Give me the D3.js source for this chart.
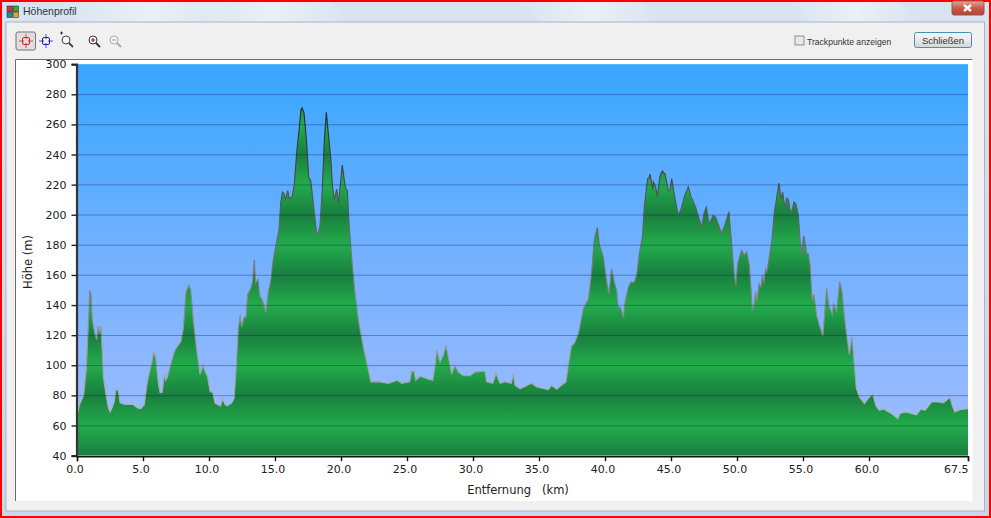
<!DOCTYPE html>
<html><head><meta charset="utf-8">
<script src="https://cdn.jsdelivr.net/npm/d3@7"></script>
<style>
html,body{margin:0;padding:0;background:#fff;overflow:hidden}
svg{display:block}
text{font-family:"DejaVu Sans",sans-serif;fill:#222}
.ui{font-family:"Liberation Sans",sans-serif}
</style></head><body>
<svg id="c" width="991" height="518"></svg>
<script>
const distanceKm = [0,0.2,0.5,0.7,0.85,0.96,1.06,1.16,1.36,1.49,1.59,1.69,1.8,1.89,2,2.17,2.37,2.5,2.67,2.83,2.95,3.13,3.26,3.64,4.26,4.52,4.82,5.1,5.28,5.4,5.66,5.83,5.98,6.16,6.29,6.46,6.61,6.72,6.84,7.1,7.42,7.88,8.05,8.26,8.46,8.61,8.81,9.07,9.32,9.55,9.7,9.9,10.08,10.28,10.45,10.63,10.88,11.03,11.2,11.39,11.72,11.9,12.05,12.22,12.35,12.47,12.65,12.8,12.93,13.16,13.3,13.43,13.53,13.71,13.86,14.04,14.32,14.5,14.67,14.83,15,15.3,15.43,15.56,15.68,15.8,15.96,16.09,16.3,16.46,16.64,16.82,16.97,17.05,17.2,17.4,17.55,17.7,17.9,18.05,18.16,18.25,18.41,18.58,18.74,18.89,19.04,19.22,19.36,19.5,19.67,19.82,19.98,20.1,20.25,20.35,20.48,20.63,20.8,21.06,21.32,21.44,21.74,22.07,22.27,22.45,22.95,23.6,24.27,24.6,25.2,25.35,25.53,25.66,26,26.5,26.95,27.12,27.25,27.5,27.75,27.95,28.13,28.38,28.64,28.9,29.27,29.77,30.15,30.9,31.04,31.5,31.74,32.05,32.42,32.9,33.05,33.18,33.56,34.44,34.83,35.7,35.95,36.34,36.7,37.04,37.22,37.47,37.68,37.98,38.36,38.74,38.94,39.19,39.42,39.57,39.87,40.13,40.3,40.5,40.7,40.88,41,41.2,41.39,41.52,41.77,41.97,42.2,42.4,42.58,42.83,42.98,43.23,43.33,43.41,43.49,43.61,43.66,43.84,43.96,44.17,44.34,44.55,44.8,44.92,45.05,45.3,45.56,45.81,46.01,46.31,46.52,46.87,47.32,47.53,47.68,47.88,48.2,48.38,48.84,49.09,49.39,49.6,49.8,49.92,50.05,50.35,50.55,50.73,50.93,51.06,51.16,51.31,51.41,51.5,51.67,51.82,51.92,52.02,52.17,52.27,52.63,52.83,53,53.18,53.33,53.46,53.64,53.76,53.89,54.09,54.32,54.47,54.65,54.85,55.07,55.28,55.4,55.53,55.7,55.83,56.03,56.2,56.5,56.67,56.79,56.97,57.22,57.32,57.55,57.78,57.95,58.13,58.31,58.51,58.71,58.89,59.04,59.27,59.65,59.95,60.28,60.53,60.78,61.1,61.7,62.17,62.35,62.73,63.23,63.6,63.94,64.24,64.75,65.25,65.63,66.14,66.26,66.5,66.9,67.27,67.5];
const elevationM = [66,74,80,97,124,150,147,130,121,117,126,121,126,112,92,82,72,69,72,76,84,83,75,74,74,72,71,74,86,92,101.5,109,104,88,82,82,94,90,92,101,110,116,124,148,153,150,130,110,94,100,96,92,82.5,82,75,74,73,78,74,73,75,78,97,124,133.5,125.6,132,132,147,151,155,170,154.5,157,145.6,143.5,135,149,155.6,168,176.6,190,208,215,214,210,216,211,212,220,241,256,270,271,267.5,247.6,225,223,208,196.5,188,187,193,216.5,250,268,254,238,218.6,210,217,208,223,233,223,217.6,216,192,172,148,130,124,110,97,89,89,89,88,90,88,89,96,96,90,92.7,91,90,99,110,102,106.7,113,105.5,94.5,100,95.5,93,93,95.5,96,89,88,94.5,88,89,88,94,86.7,84.4,88,85.5,83.8,86.7,84,86.7,89,100,113,114.5,121,137.7,144,157.6,183,191.5,180,172,155.4,147.7,164,155.4,150,139,138,132,142,152,155.4,155,160,173,185,206,224,224.4,227,223,217,222,218.5,212,226,229,227,216,216,224,211,199.6,205,212,218.5,212,205,192,202,205,194,199.6,198.5,187.5,193.5,202,180,160,153,167.6,176.4,173,175,166.5,151,136.6,141,149,142,154,152,160,154,164,162,182,202,211,221,210,215,204,211,210,200,208.5,207,199.6,174,186,174,174,166.5,143,147,133,128,119.6,137.7,151,139,133.7,141,135.5,155.4,149,133,120,107,119,100,84.6,79,74.6,78,81,73,70,71,68,64.5,68,69,68,67,71,70,75.6,75.6,75,78.5,74.5,69,70.5,71,71];
const yTickValues = [40,60,80,100,120,140,160,180,200,220,240,260,280,300];
const xTickValues = [0,5,10,15,20,25,30,35,40,45,50,55,60,67.5];
const bandStops = [300,280,260,240,220,200,180,160,140,120,100,80,60,40];
const points = distanceKm.map((d,i)=>({km:d,m:elevationM[i]}));

const svg = d3.select("#c");
const x = d3.scaleLinear().domain([0,67.5]).range([77,968]);
const y = d3.scaleLinear().domain([40,300]).range([455.6,64.2]);
const defs = svg.append("defs");
function grad(id,stops,horizontal){
  const g=defs.append("linearGradient").attr("id",id).attr("gradientUnits","objectBoundingBox")
    .attr("x1",0).attr("y1",0).attr("x2",horizontal?1:0).attr("y2",horizontal?0:1);
  stops.forEach(s=>g.append("stop").attr("offset",s[0]).attr("stop-color",s[1]).attr("stop-opacity",s[2]===undefined?1:s[2]));
}
function userGrad(id,stops){
  const g=defs.append("linearGradient").attr("id",id).attr("gradientUnits","userSpaceOnUse")
    .attr("x1",0).attr("x2",0).attr("y1",y(300)).attr("y2",y(40));
  stops.forEach(s=>g.append("stop").attr("offset",(300-s[0])/260).attr("stop-color",s[1]));
}
userGrad("sky",[[300,"#37a6ff"],[170,"#74b1ff"],[40,"#a3bdff"]]);
userGrad("band",bandStops.map(v=>[v,(v/20)%2===0?"#197f3e":"#23ab4c"]));
userGrad("edge",[[300,"#111"],[230,"#444"],[170,"#777"],[100,"#a0a0a0"],[40,"#c0c0c0"]]);
grad("title",[[0,"#d8e5f1"],[1,"#c6d8ea"]]);
grad("streak",[[0,"#fff",0],[.5,"#fff",.45],[1,"#fff",0]],true);
grad("close",[[0,"#e0a89e"],[.5,"#c9594a"],[1,"#b5412f"]]);
grad("btn",[[0,"#f6f6f6"],[.5,"#e9e9e9"],[1,"#d5d5d5"]]);

// window chrome
svg.append("rect").attr("width",991).attr("height",518).attr("fill","#f00");
svg.append("rect").attr("x",2).attr("y",2).attr("width",987).attr("height",514).attr("fill","url(#title)");
[[60,220],[190,330],[520,640],[790,900]].forEach(s=>{
  svg.append("path").attr("d",`M${s[0]},2H${s[1]}L${s[1]+20},22H${s[0]+20}Z`).attr("fill","url(#streak)");
});
svg.append("rect").attr("x",6).attr("y",22).attr("width",978.5).attr("height",489).attr("fill","#f0f0f0").attr("stroke","#a9b4bf");
svg.append("rect").attr("x",952).attr("y",1).attr("width",32).attr("height",14).attr("rx",2).attr("fill","url(#close)").attr("stroke","#8d5a52");
svg.append("path").attr("d","M964,5l7,6M971,5l-7,6").attr("stroke","#fff").attr("stroke-width",2.4);
svg.append("g").selectAll("rect").data([["#c33",7,6],["#3a3",13,6],["#28a",7,12],["#da2",13,12]]).join("rect")
  .attr("x",d=>d[1]).attr("y",d=>d[2]).attr("width",5.5).attr("height",5.5).attr("fill",d=>d[0]).attr("stroke","#333").attr("stroke-width",.6);
svg.append("text").attr("class","ui").attr("x",23).attr("y",14.5).attr("font-size",10.5).style("fill","#333").text("Höhenprofil");

// toolbar
svg.append("rect").attr("x",16).attr("y",32).attr("width",19.5).attr("height",18).attr("rx",2).attr("fill","#dedede").attr("stroke","#777");
function crosshair(cx,cy,col){
  const g=svg.append("g").attr("fill","none");
  g.append("rect").attr("x",cx-3.5).attr("y",cy-3.5).attr("width",7).attr("height",7).attr("rx",1.5).attr("stroke",col);
  g.append("path").attr("d",`M${cx-7},${cy}h5M${cx+2},${cy}h5M${cx},${cy-7}v5M${cx},${cy+2}v5`).attr("stroke",col).attr("stroke-width",.8);
}
crosshair(26,41,"#d22");crosshair(46,41,"#22c");
function glass(cx,cy,col,sym){
  const g=svg.append("g").attr("fill","none");
  g.append("circle").attr("cx",cx).attr("cy",cy).attr("r",4).attr("stroke",col).attr("fill","#f6f6f6");
  g.append("path").attr("d",`M${cx+3},${cy+3}l4,4`).attr("stroke",col).attr("stroke-width",1.8);
  if(sym) g.append("path").attr("d",sym).attr("stroke",col==="#333"?"#811":"#999");
}
glass(66,40,"#444",null);
svg.append("path").attr("d","M60,33h3M61.5,31.5v3").attr("stroke","#333");
glass(93,40,"#333","M91,40h4M93,38v4");
glass(114,40,"#aaa","M112,40h4");
svg.append("rect").attr("x",795).attr("y",36).attr("width",9).attr("height",9).attr("fill","#e8e8e8").attr("stroke","#8e8f8f");
svg.append("text").attr("class","ui").attr("x",807).attr("y",45).attr("font-size",8.6).style("fill","#333").text("Trackpunkte anzeigen");
svg.append("rect").attr("x",914.5).attr("y",32.5).attr("width",57).attr("height",15).attr("rx",2).attr("fill","url(#btn)").attr("stroke","#3c93b8");
svg.append("text").attr("class","ui").attr("x",943).attr("y",44).attr("text-anchor","middle").attr("font-size",9.5).style("fill","#333").text("Schließen");

// chart panel
svg.append("rect").attr("x",15.5).attr("y",59.5).attr("width",957).attr("height",441.5).attr("fill","#fff");
svg.append("path").attr("d","M15.5,501V59.5H972.5").attr("fill","none").attr("stroke","#6d6d6d");
svg.append("rect").attr("x",x(0)).attr("y",y(300)).attr("width",x(67.5)-x(0)).attr("height",y(40)-y(300)).attr("fill","url(#sky)");

const area = d3.area().x(d=>x(d.km)).y0(y(40)).y1(d=>y(d.m)).curve(d3.curveLinear);
const line = d3.line().x(d=>x(d.km)).y(d=>y(d.m)).curve(d3.curveLinear);
svg.append("path").datum(points).attr("d",area).attr("fill","url(#band)");
svg.append("path").datum(points).attr("d",line).attr("fill","none").attr("stroke","url(#edge)").attr("stroke-width",1.1);

// grid
svg.append("g").selectAll("line").data(yTickValues.filter(v=>v>40&&v<300)).join("line")
  .attr("x1",x(0)).attr("x2",x(67.5)).attr("y1",d=>y(d)+.3).attr("y2",d=>y(d)+.3)
  .attr("stroke","#0a1f55").attr("stroke-opacity",.36).attr("stroke-width",1);

// axes
const gy = svg.append("g").attr("transform",`translate(${x(0)-.5},0)`)
  .call(d3.axisLeft(y).tickValues(yTickValues).tickSize(5).tickPadding(5).tickFormat(d3.format("d")));
gy.select(".domain").attr("stroke","#333").attr("stroke-width",2.2);
gy.selectAll("line").attr("stroke","#222").attr("stroke-width",1.4);
gy.selectAll("text").attr("font-size",11).attr("font-family","'DejaVu Sans',sans-serif");
const gx = svg.append("g").attr("transform",`translate(0,${y(40)+.6})`)
  .call(d3.axisBottom(x).tickValues(xTickValues).tickSize(5).tickPadding(4).tickFormat(d3.format(".1f")));
gx.select(".domain").attr("stroke","#111").attr("stroke-width",1.4);
gx.selectAll("line").attr("stroke","#111").attr("stroke-width",1.4);
gx.selectAll("text").attr("font-size",11).attr("font-family","'DejaVu Sans',sans-serif").attr("dx",-2.5);
gx.selectAll(".tick").filter(d=>d===67.5).select("text").attr("text-anchor","end").attr("dx",0);

svg.append("text").attr("x",518).attr("y",494).attr("text-anchor","middle").attr("font-size",11.5).attr("xml:space","preserve").style("white-space","pre").text("Entfernung   (km)");
svg.append("text").attr("transform","translate(32,262) rotate(-90)").attr("text-anchor","middle").attr("font-size",11.5).text("Höhe (m)");
</script>
</body></html>
